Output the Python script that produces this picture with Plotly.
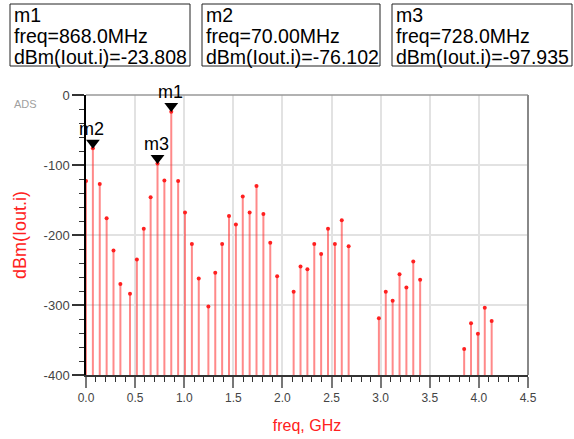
import plotly.graph_objects as go

# ---- data ----
freq_mhz = [0, 70, 140, 210, 280, 350,
            448, 518, 588, 658, 728, 798, 868, 938, 1008, 1078, 1148,
            1246, 1316, 1386, 1456, 1526, 1596, 1666, 1736, 1806, 1876, 1946,
            2114, 2184, 2254, 2324, 2394, 2464, 2534, 2604, 2674,
            2982, 3052, 3122, 3192, 3262, 3332, 3402,
            3850, 3920, 3990, 4060, 4130]
dbm_vals = [-123, -76.102, -127, -176, -222, -270,
            -284, -235, -191, -146, -97.935, -122, -23.808, -123, -168, -213, -262,
            -302, -254, -213, -173, -185, -145, -168, -130, -170, -211, -259,
            -281, -245, -249, -213, -227, -191, -213, -179, -216,
            -319, -281, -294, -256, -275, -238, -264,
            -363, -326, -341, -304, -323]
marker_names = ["m1", "m2", "m3"]
marker_freq_mhz = [868, 70, 728]
marker_freq_text = ["868.0MHz", "70.00MHz", "728.0MHz"]
marker_dbm_text = ["-23.808", "-76.102", "-97.935"]
y_ticks = [0, -100, -200, -300, -400]
x_ticks = [0.0, 0.5, 1.0, 1.5, 2.0, 2.5, 3.0, 3.5, 4.0, 4.5]

FONT = "Liberation Sans, Arial, sans-serif"
W, H = 574, 439
ML, MR, MT, MB = 86, 46, 95, 64
PW, PH = W - ML - MR, H - MT - MB

def px_x(p):
    return (p - ML) / PW

def px_y(p):
    return (H - MB - p) / PH

freq_ghz = [f / 1000 for f in freq_mhz]
ybot = min(y_ticks)

# stems
sx, sy = [], []
for f, v in zip(freq_ghz, dbm_vals):
    sx += [f, f, None]
    sy += [ybot, v, None]

fig = go.Figure()
fig.add_trace(go.Scatter(x=sx, y=sy, mode="lines",
                         line=dict(color="rgba(255,40,40,0.55)", width=2),
                         hoverinfo="skip", showlegend=False))
fig.add_trace(go.Scatter(x=freq_ghz, y=dbm_vals, mode="markers",
                         marker=dict(color="#ff2020", size=4),
                         showlegend=False))

# marker triangles
mk_x, mk_y = [], []
for f in marker_freq_mhz:
    v = dbm_vals[freq_mhz.index(f)]
    mk_x.append(f / 1000)
    mk_y.append(v + 8.0)
fig.add_trace(go.Scatter(x=mk_x, y=mk_y, mode="markers",
                         marker=dict(symbol="triangle-down", size=12, color="black"),
                         showlegend=False))

annotations = []
for name, xv, yv in zip(marker_names, mk_x, mk_y):
    annotations.append(dict(x=xv, y=yv, xref="x", yref="y", text=name,
                            showarrow=False, yshift=14, xshift=-1,
                            font=dict(family=FONT, size=18, color="black")))

# marker readout boxes
box_left = [10, 202, 392]
box_right = [190, 380, 572]
box_top, box_bot = 4, 66
shapes = []
for i in range(3):
    shapes.append(dict(type="rect", xref="paper", yref="paper",
                       x0=px_x(box_left[i]), x1=px_x(box_right[i]),
                       y0=px_y(box_bot), y1=px_y(box_top),
                       line=dict(color="#222", width=1), fillcolor="white"))
    lines = [marker_names[i], "freq=" + marker_freq_text[i],
             "dBm(Iout.i)=" + marker_dbm_text[i]]
    for j, t in enumerate(lines):
        annotations.append(dict(x=px_x(box_left[i] + 2), y=px_y(box_top + 11 + 21 * j),
                                xref="paper", yref="paper", xanchor="left",
                                yanchor="middle", text=t, showarrow=False,
                                font=dict(family=FONT, size=19.5, color="black")))

# top and right frame
shapes.append(dict(type="line", xref="paper", yref="paper", x0=0, x1=1, y0=1, y1=1,
                   line=dict(color="#999", width=1.5)))
shapes.append(dict(type="line", xref="paper", yref="paper", x0=1, x1=1, y0=0, y1=1,
                   line=dict(color="#888", width=2)))

annotations.append(dict(x=px_x(12), y=px_y(104), xref="paper", yref="paper",
                        xanchor="left", yanchor="middle", text="ADS", showarrow=False,
                        font=dict(family=FONT, size=11, color="#a0a0a0")))

fig.update_layout(
    width=W, height=H, margin=dict(l=ML, r=MR, t=MT, b=MB, autoexpand=False),
    paper_bgcolor="white", plot_bgcolor="white",
    shapes=shapes, annotations=annotations,
    xaxis=dict(range=[0, 4.5], tickvals=x_ticks, automargin=False,
               ticktext=[f"{v:.1f}" for v in x_ticks],
               showgrid=True, gridcolor="#e2e2e2", gridwidth=2,
               showline=True, linecolor="#333", linewidth=1.5,
               ticks="outside", ticklen=11, tickwidth=2, tickcolor="#777",
               minor=dict(dtick=0.1, ticks="outside", ticklen=5, tickwidth=1,
                          tickcolor="#333", showgrid=False),
               tickfont=dict(family=FONT, size=12, color="#444"),
               title=dict(text="freq, GHz", standoff=16,
                          font=dict(family=FONT, size=16, color="#ff2020")),
               zeroline=False),
    yaxis=dict(range=[-400, 0], tickvals=y_ticks, automargin=False,
               ticktext=[str(v) for v in y_ticks],
               showgrid=True, gridcolor="#e2e2e2", gridwidth=2,
               showline=True, linecolor="black", linewidth=1.5,
               ticks="outside", ticklen=12, tickwidth=1.5, tickcolor="#333",
               minor=dict(dtick=20, ticks="outside", ticklen=5, tickwidth=1,
                          tickcolor="#333", showgrid=False),
               tickfont=dict(family=FONT, size=13, color="#444"),
               title=dict(text="dBm(Iout.i)", standoff=12,
                          font=dict(family=FONT, size=18, color="#ff2020")),
               zeroline=False),
)

fig.write_html("out.html")
